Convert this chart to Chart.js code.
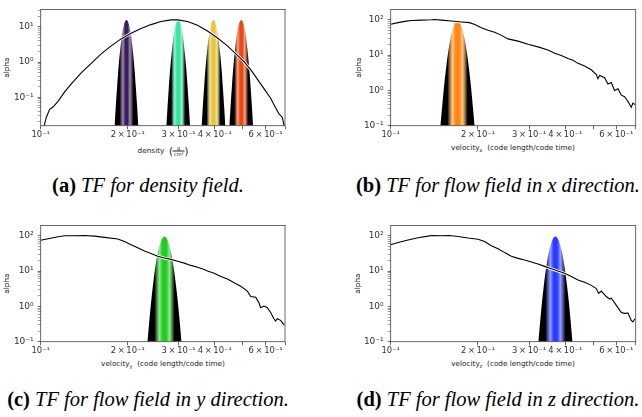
<!DOCTYPE html>
<html>
<head>
<meta charset="utf-8">
<script src="https://cdn.jsdelivr.net/npm/chart.js@4.4.1/dist/chart.umd.min.js"></script>
<style>
  body { margin:0; width:642px; height:417px; background:#fff; position:relative; overflow:hidden; font-family:"DejaVu Sans", sans-serif; }
  .panel { position:absolute; }
  .xlabel { position:absolute; font-size:7.3px; color:#222; white-space:nowrap; transform:translate(-50%,-50%); }
  .xlabel sub { font-size:5px; }
  .frac { display:inline-block; vertical-align:middle; text-align:center; font-size:5px; line-height:5px; }
  .frac span { display:block; padding:0 1px; }
  .frac .num { border-bottom:0.6px solid #222; }
  .paren { font-size:10px; vertical-align:middle; }
  .caption { position:absolute; font-family:"Liberation Serif", serif; font-size:20.5px; color:#000; white-space:nowrap; transform:translate(-50%,-50%); }
</style>
</head>
<body>
<div class="panel" style="left:0;top:0;width:320px;height:142px"><canvas id="chartA"></canvas></div>
<div class="panel" style="left:352px;top:0;width:290px;height:142px"><canvas id="chartB"></canvas></div>
<div class="panel" style="left:0;top:216px;width:320px;height:142px"><canvas id="chartC"></canvas></div>
<div class="panel" style="left:351px;top:216px;width:291px;height:142px"><canvas id="chartD"></canvas></div>

<div class="xlabel" style="left:163px;top:151px">density&nbsp;&nbsp;<span class="paren">(</span><span class="frac"><span class="num">g</span><span>cm³</span></span><span class="paren">)</span></div>
<div class="xlabel" style="left:513px;top:148px">velocity<sub>x</sub>&nbsp;&nbsp;(code length/code time)</div>
<div class="xlabel" style="left:163px;top:364px">velocity<sub>y</sub>&nbsp;&nbsp;(code length/code time)</div>
<div class="xlabel" style="left:513px;top:364px">velocity<sub>z</sub>&nbsp;&nbsp;(code length/code time)</div>

<div class="caption" style="left:148px;top:185px"><b>(a)</b> <i>TF for density field.</i></div>
<div class="caption" style="left:498px;top:185px"><b>(b)</b> <i>TF for flow field in x direction.</i></div>
<div class="caption" style="left:148px;top:399px"><b>(c)</b> <i>TF for flow field in y direction.</i></div>
<div class="caption" style="left:498px;top:399px"><b>(d)</b> <i>TF for flow field in z direction.</i></div>

<script>
// axis ticks
const xTickValues = [0.1, 0.2, 0.3, 0.4, 0.5, 0.6, 0.7];
const xTickLabels = ['10⁻¹', '2\u2009×\u200910⁻¹', '3\u2009×\u200910⁻¹', '4\u2009×\u200910⁻¹', '', '6\u2009×\u200910⁻¹', ''];
const yMajorValues = [0.1, 1, 10, 100];
const yMajorLabels = ['10⁻¹', '10⁰', '10¹', '10²'];

// (a) density histogram + 4 transfer function peaks
const densX = [0.1027,0.1046,0.1074,0.1103,0.1148,0.1210,0.1276,0.1381,0.1495,0.1619,0.1753,0.1897,0.2054,0.2224,0.2408,0.2607,0.2822,0.2976,0.3221,0.3487,0.3776,0.4088,0.4426,0.4792,0.5051,0.5326,0.5615,0.5920,0.6243,0.6495,0.6670,0.6849,0.6959];
const densAlpha = [0.0150,0.0270,0.0455,0.0526,0.0764,0.142,0.239,0.494,0.920,1.71,2.88,4.55,6.6,9.0,11.6,14.2,15.8,15.8,14.2,11.1,7.64,4.84,2.88,1.55,1.02,0.608,0.327,0.175,0.094,0.0505,0.0333,0.0270,0.0150];
const peakAlphaDens = [0.0076,0.0155,0.0575,0.186,0.535,1.94,5.25,12.0,15.8,12.0,5.25,1.94,0.535,0.186,0.0575,0.0155,0.0076];
const peakPurpleX = [0.1794,0.1802,0.1819,0.1837,0.1854,0.1880,0.1907,0.1943,0.198,0.2018,0.2056,0.2085,0.2115,0.2134,0.2155,0.2175,0.2185];
const peakTealX = [0.2709,0.2722,0.2748,0.2774,0.2800,0.2840,0.2880,0.2934,0.299,0.3047,0.3105,0.3148,0.3194,0.3223,0.3254,0.3285,0.3300];
const peakYellowX = [0.3588,0.3605,0.3639,0.3674,0.3708,0.3761,0.3814,0.3886,0.396,0.4035,0.4112,0.4169,0.4230,0.4268,0.4309,0.4350,0.4370];
const peakRedX = [0.4476,0.4497,0.4539,0.4583,0.4625,0.4692,0.4758,0.4848,0.494,0.5034,0.5129,0.5201,0.5276,0.5325,0.5376,0.5427,0.5452];

// (b) velocity x
const velxX = [0.1,0.1060,0.1118,0.1178,0.1276,0.1381,0.1418,0.1495,0.1619,0.1753,0.1872,0.1949,0.2054,0.2166,0.2284,0.2408,0.2539,0.2749,0.2976,0.3221,0.3487,0.3677,0.3877,0.4088,0.4253,0.4426,0.4667,0.4920,0.5120,0.5187,0.5257,0.5469,0.5615,0.5766,0.5920,0.6079,0.6243,0.6410,0.6583,0.6760,0.6849,0.6959];
const velxAlpha = [74.8,83.0,90.1,95.9,97.9,100,102,97.9,92.0,86.5,83.0,73.3,59.6,50.5,44.6,36.2,28.8,24.9,20.2,17.1,13.9,11.3,9.8,7.96,7.18,5.83,4.94,3.85,2.82,2.15,2.65,2.29,1.51,1.68,1.0,1.11,0.733,0.661,0.484,0.333,0.436,0.394];
const peakAlphaVel = [0.047,0.1,0.368,1.18,3.31,12.0,31.9,72.6,95.5,72.6,31.9,12.0,3.31,1.18,0.368,0.1,0.047];
const peakOrangeX = [0.1475,0.1485,0.1506,0.1526,0.1547,0.1578,0.1611,0.1655,0.170,0.1746,0.1794,0.1831,0.1868,0.1894,0.1919,0.1946,0.1959];

// (c) velocity y
const velyX = [0.1,0.1060,0.1148,0.1210,0.1310,0.1418,0.1535,0.1662,0.1848,0.1949,0.2054,0.2166,0.2284,0.2408,0.2539,0.2677,0.2822,0.2976,0.3137,0.3307,0.3487,0.3677,0.3776,0.3981,0.4198,0.4426,0.4667,0.4920,0.5187,0.5326,0.5541,0.5690,0.5766,0.5920,0.6079,0.6243,0.6410,0.6495,0.6583,0.6760,0.6959];
const velyAlpha = [74.8,82.9,94.0,100,100,102,97.9,90.1,81.3,68.8,56.0,45.5,37.0,31.3,26.5,23.4,21.5,19.0,16.8,14.5,12.8,11.1,10.0,8.65,7.03,5.96,4.65,3.70,2.71,1.90,1.82,1.26,0.92,1.02,0.92,0.674,0.446,0.385,0.446,0.402,0.294];
const peakGreenX = [0.2326,0.2342,0.2374,0.2406,0.2439,0.2488,0.2539,0.2609,0.268,0.2753,0.2828,0.2886,0.2945,0.2986,0.3026,0.3067,0.3088];

// (d) velocity z
const velzX = [0.1,0.1060,0.1148,0.1243,0.1345,0.1381,0.1495,0.1597,0.1707,0.1848,0.2000,0.2109,0.2224,0.2345,0.2472,0.2607,0.2749,0.2898,0.3055,0.3221,0.3396,0.3581,0.3776,0.3981,0.4198,0.4426,0.4667,0.4920,0.5120,0.5213,0.5326,0.5541,0.5690,0.5766,0.5920,0.6079,0.6243,0.6410,0.6583,0.6760,0.6849,0.6959];
const velzAlpha = [56.0,64.7,76.4,88.3,97.9,102,100,102,95.9,86.5,79.6,68.8,52.6,42.8,33.4,26.5,22.9,20.7,18.2,15.8,13.6,11.6,10.0,8.65,7.03,5.60,4.84,3.94,3.20,2.34,2.71,1.90,1.61,1.71,1.26,0.92,0.674,0.634,0.647,0.402,0.362,0.446];
const peakBlueX = [0.3211,0.3233,0.3277,0.3321,0.3367,0.3435,0.3506,0.3602,0.37,0.3801,0.3905,0.3985,0.4066,0.4122,0.4177,0.4235,0.4263];

const pts = (xs, ys) => xs.map((x, i) => ({ x: x, y: ys[i] }));

// horizontal gradient: black edges, bright colour in the middle
function peakFill(color) {
    return (ctx) => {
        const chart = ctx.chart;
        if (!chart.chartArea) return color;
        const d = ctx.dataset.data;
        const x0 = chart.scales.x.getPixelForValue(d[0].x);
        const x1 = chart.scales.x.getPixelForValue(d[d.length - 1].x);
        if (!isFinite(x0) || !isFinite(x1)) return color;
        const g = chart.ctx.createLinearGradient(x0, 0, x1, 0);
        g.addColorStop(0, '#000');
        g.addColorStop(0.22, '#000');
        g.addColorStop(0.36, color + '80');
        g.addColorStop(0.45, color);
        g.addColorStop(0.55, color);
        g.addColorStop(0.64, color + '80');
        g.addColorStop(0.78, '#000');
        g.addColorStop(1, '#000');
        return g;
    };
}

const frame = {
    id: 'frame',
    afterDatasetsDraw(chart) {
        const { ctx, chartArea: a } = chart;
        ctx.save();
        ctx.strokeStyle = '#444';
        ctx.lineWidth = 0.8;
        ctx.strokeRect(a.left, a.top, a.right - a.left, a.bottom - a.top);
        ctx.restore();
    }
};

function makePanel(id, opt) {
    const datasets = [
        { data: pts(opt.xs, opt.ys), borderColor: '#000', borderWidth: 1.1, pointRadius: 0, fill: false, order: 0 },
        { data: pts(opt.xs, opt.ys), borderColor: '#fff', borderWidth: 2.8, pointRadius: 0, fill: false, order: 1 }
    ];
    opt.peaks.forEach(p => {
        datasets.push({
            data: pts(p.xs, p.ys), borderWidth: 0, borderColor: 'rgba(0,0,0,0)',
            backgroundColor: peakFill(p.color), fill: 'start', pointRadius: 0,
            cubicInterpolationMode: 'monotone', order: 2
        });
    });

    new Chart(document.getElementById(id), {
        type: 'line',
        data: { datasets: datasets },
        plugins: [frame],
        options: {
            responsive: true,
            maintainAspectRatio: false,
            animation: false,
            layout: { padding: { top: opt.padTop, right: opt.padRight, left: 0, bottom: 0 } },
            plugins: { legend: { display: false }, tooltip: { enabled: false } },
            scales: {
                x: {
                    type: 'logarithmic', min: 0.1, max: 0.7,
                    afterBuildTicks: s => { s.ticks = xTickValues.map(v => ({ value: v })); },
                    afterFit: s => { s.height = 16.3; },
                    ticks: {
                        autoSkip: false, maxRotation: 0, padding: 1, color: '#333',
                        font: { family: 'DejaVu Sans', size: 8.4 },
                        callback: (v, i) => xTickLabels[i]
                    },
                    grid: { drawOnChartArea: false, tickLength: 3.5, tickColor: '#444', tickWidth: 0.8 },
                    border: { display: false }
                },
                y: {
                    type: 'logarithmic', min: opt.yMin, max: opt.yMax,
                    afterBuildTicks: s => {
                        const t = [];
                        for (let e = -2; e <= 2; e++) {
                            for (let m = 1; m <= 9; m++) {
                                const v = m * Math.pow(10, e);
                                if (v >= s.min && v <= s.max) t.push({ value: v });
                            }
                        }
                        s.ticks = t;
                    },
                    afterFit: s => { s.width = opt.yWidth; },
                    ticks: {
                        autoSkip: false, padding: 4, color: '#333',
                        font: { family: 'DejaVu Sans', size: 9 },
                        callback: v => {
                            const k = yMajorValues.findIndex(m => Math.abs(m - v) / m < 1e-6);
                            return k >= 0 ? yMajorLabels[k] : '';
                        }
                    },
                    grid: {
                        drawOnChartArea: false, tickLength: 3, tickColor: '#444',
                        tickWidth: c => (yMajorValues.some(m => Math.abs(m - c.tick.value) / m < 1e-6) ? 0.8 : 0.5)
                    },
                    border: { display: false },
                    title: { display: true, text: 'alpha', color: '#222', padding: { top: 3, bottom: 0 }, font: { family: 'DejaVu Sans', size: 7.3 } }
                }
            }
        }
    });
}

makePanel('chartA', {
    xs: densX, ys: densAlpha, yMin: 0.0155, yMax: 31.4, yWidth: 40.7, padTop: 3.3, padRight: 35,
    peaks: [
        { xs: peakPurpleX, ys: peakAlphaDens, color: '#3c1b5e' },
        { xs: peakTealX, ys: peakAlphaDens, color: '#34e6a0' },
        { xs: peakYellowX, ys: peakAlphaDens, color: '#e8c63c' },
        { xs: peakRedX, ys: peakAlphaDens, color: '#e84a12' }
    ]
});
makePanel('chartB', {
    xs: velxX, ys: velxAlpha, yMin: 0.1, yMax: 197, yWidth: 38.7, padTop: 3.3, padRight: 6.3,
    peaks: [{ xs: peakOrangeX, ys: peakAlphaVel, color: '#ff8812' }]
});
makePanel('chartC', {
    xs: velyX, ys: velyAlpha, yMin: 0.1, yMax: 197, yWidth: 40.7, padTop: 4, padRight: 35,
    peaks: [{ xs: peakGreenX, ys: peakAlphaVel, color: '#22cc22' }]
});
makePanel('chartD', {
    xs: velzX, ys: velzAlpha, yMin: 0.1, yMax: 197, yWidth: 39.7, padTop: 4, padRight: 6.3,
    peaks: [{ xs: peakBlueX, ys: peakAlphaVel, color: '#2a3cff' }]
});
</script>
</body>
</html>
